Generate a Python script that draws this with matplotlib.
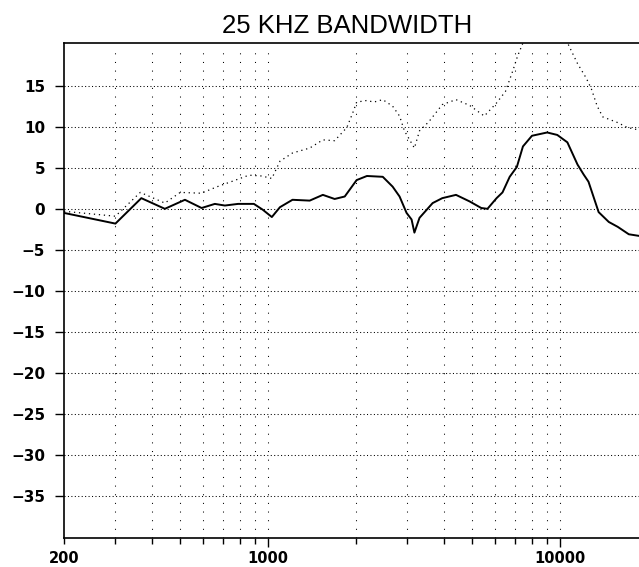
import matplotlib
matplotlib.use('Agg')
import matplotlib.pyplot as plt
import matplotlib.ticker as mticker
import numpy as np

## response curve (solid)
freq_solid = [200, 300, 368, 443, 519, 592, 657, 711, 789, 894, 958, 1030, 1098, 1212,
              1388, 1540, 1690, 1830, 2010, 2180, 2470, 2670, 2820, 2980, 3100, 3170,
              3300, 3660, 3950, 4400, 4900, 5370, 5640, 6060, 6350, 6720, 7110, 7460,
              8010, 9030, 9780, 10590, 11470, 12030, 12510, 13550, 14680, 15760, 17190,
              18660, 20000]
db_solid = [-0.5, -1.8, 1.3, 0.0, 1.1, 0.1, 0.6, 0.4, 0.6, 0.6, -0.1, -1.0, 0.2, 1.1,
            1.0, 1.7, 1.2, 1.5, 3.5, 4.0, 3.9, 2.7, 1.5, -0.5, -1.3, -2.9,
            -1.1, 0.7, 1.3, 1.7, 0.9, 0.1, 0.0, 1.3, 2.0, 3.9, 5.1, 7.6,
            8.9, 9.3, 9.0, 8.1, 5.4, 4.2, 3.3, -0.4, -1.6, -2.2, -3.1,
            -3.3, -3.3]

## upper curve (dotted)
freq_dot = [200, 300, 365, 443, 500, 590, 670, 760, 860, 950, 1030, 1098, 1212, 1388,
            1540, 1690, 1860, 1950, 2010, 2180, 2300, 2470, 2670, 2820, 2930, 3170,
            3300, 3550, 3950, 4400, 4900, 5500, 6060, 6500, 6900, 7150, 7460, 8000,
            9000, 10000, 10640, 11470, 12300, 12800, 13400, 14000, 15760, 17000,
            18660, 20000]
db_dot = [-0.3, -0.9, 2.0, 0.7, 2.0, 1.9, 2.7, 3.4, 4.1, 4.0, 3.7, 5.8, 6.8, 7.4,
          8.4, 8.3, 9.9, 11.7, 13.0, 13.2, 13.0, 13.3, 12.5, 11.3, 9.5, 7.4,
          9.5, 10.6, 12.7, 13.3, 12.6, 11.3, 12.9, 14.3, 16.9, 18.6, 20.2, 22.0,
          23.0, 22.0, 20.1, 17.7, 15.9, 14.6, 12.5, 11.2, 10.5, 9.9,
          9.6, 9.5]

y_ticks = [15, 10, 5, 0, -5, -10, -15, -20, -25, -30, -35]
x_major = [1000, 10000]
x_minor = [200, 300, 400, 500, 600, 700, 800, 900,
           2000, 3000, 4000, 5000, 6000, 7000, 8000, 9000]
x_grid = [300, 400, 500, 600, 700, 800, 900, 1000,
          2000, 3000, 4000, 5000, 6000, 7000, 8000, 9000, 10000]

fig = plt.figure(figsize=(6.39, 5.67), dpi=100)
ax = fig.add_axes([64/639, 1-538/567, (648-64)/639, (538-43)/567])

ax.set_xscale('log')
ax.set_xlim(200, 20000)
ax.set_ylim(-40.1, 20.2)

## grid lines drawn by hand so the dot spacing can differ
for yv in y_ticks:
    ax.axhline(yv, color='black', lw=0.75, ls=(0, (1, 2.3)), zorder=1)
for xv in x_grid:
    ax.axvline(xv, ymin=0.0, ymax=0.985, color='black', lw=0.75, ls=(0, (1, 7.3)), zorder=1)

ax.plot(freq_dot, db_dot, color='black', lw=0.9, ls=(0, (1, 3)), zorder=2)
ax.plot(freq_solid, db_solid, color='black', lw=1.4, zorder=3)

ax.spines['right'].set_visible(False)
for s in ['left', 'top', 'bottom']:
    ax.spines[s].set_linewidth(1.2)

ax.set_yticks(y_ticks)
ax.yaxis.set_major_formatter(mticker.FuncFormatter(lambda v, p: ('%d' % v).replace('-', '\u2212')))
ax.tick_params(axis='y', length=6.5, width=1.0, pad=7, labelsize=11)

ax.xaxis.set_major_locator(mticker.FixedLocator(x_major))
ax.xaxis.set_minor_locator(mticker.FixedLocator(x_minor))
ax.xaxis.set_major_formatter(mticker.FuncFormatter(lambda v, p: '%d' % v))
ax.xaxis.set_minor_formatter(mticker.FuncFormatter(lambda v, p: '200' if abs(v - 200) < 1 else ''))
ax.tick_params(axis='x', which='major', length=6.5, width=1.0, pad=2.8, labelsize=10.5)
ax.tick_params(axis='x', which='minor', length=4.3, width=1.0, pad=5.0, labelsize=10.5)

for lab in ax.get_xticklabels(which='both') + ax.get_yticklabels():
    lab.set_fontweight('bold')

fig.text(347/639, 1-26/567, '25 KHZ BANDWIDTH', ha='center', va='center',
         fontsize=18.5, family='Liberation Sans')

fig.savefig('out.png', dpi=100)
